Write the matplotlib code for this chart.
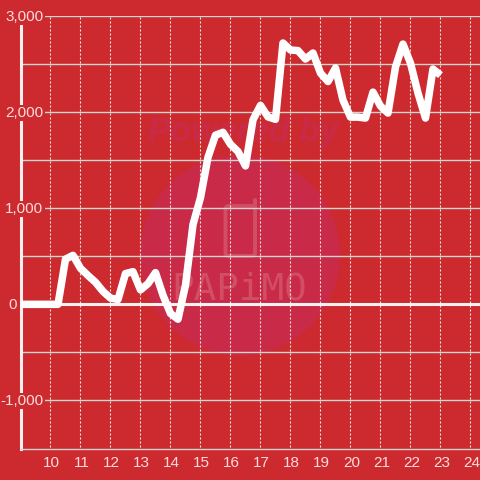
import matplotlib
matplotlib.use('Agg')
import matplotlib.pyplot as plt
from matplotlib.patches import Circle, FancyBboxPatch
from matplotlib.transforms import ScaledTranslation

# chart values
hours = [9, 9.25, 9.5, 9.75, 10, 10.25, 10.5, 10.75, 11, 11.25, 11.5, 11.75,
         12, 12.25, 12.5, 12.75, 13, 13.25, 13.5, 13.75, 14, 14.25, 14.5, 14.75,
         15, 15.25, 15.5, 15.75, 16, 16.25, 16.5, 16.75, 17, 17.25, 17.5, 17.75,
         18, 18.25, 18.5, 18.75, 19, 19.25, 19.5, 19.75, 20, 20.25, 20.5, 20.75,
         21, 21.25, 21.5, 21.75, 22, 22.25, 22.5, 22.75, 23]
values = [0, 0, 0, 0, 0, 0, 470, 510, 375, 300, 230, 135,
          65, 50, 320, 340, 150, 215, 330, 95, -95, -155, 200, 830,
          1110, 1530, 1760, 1790, 1665, 1590, 1440, 1920, 2070, 1950, 1925, 2719,
          2646, 2640, 2552, 2615, 2406, 2318, 2458, 2125, 1948, 1948, 1938, 2208,
          2063, 1990, 2469, 2708, 2510, 2198, 1938, 2448, 2385]
x_ticks = list(range(10, 25))
y_ticks = [3000, 2000, 1000, 0, -1000]
y_labels = ['3,000', '2,000', '1,000', '0', '-1,000']
y_grid = [3000, 2500, 2000, 1500, 1000, 500, -500, -1000]

bg = '#cc2a2e'
label_col = '#fbdcdc'
plt.rcParams['font.family'] = ['Liberation Sans', 'DejaVu Sans']

fig = plt.figure(figsize=(4.8, 4.8), dpi=100, facecolor=bg)

# watermark layer, in pixels
wm = fig.add_axes([0, 0, 1, 1], zorder=0)
wm.set_xlim(0, 480)
wm.set_ylim(480, 0)
wm.axis('off')
wm.add_patch(Circle((240, 255), 100, fc='#c92a48', ec='none'))
wm.text(243, 133, 'Powered by', color='#c92a48', fontsize=24.5, fontweight='bold',
        fontstyle='italic', ha='center', va='center')
wm.add_patch(FancyBboxPatch((225.5, 206), 29.5, 50, boxstyle='round,pad=0,rounding_size=3',
                            fc='none', ec='#d14e64', lw=2.8))
wm.plot([255, 255], [200, 208], color='#d14e64', lw=2.8, solid_capstyle='round')
wm.text(239, 290, 'PAPiMO', color='#d14e64', family='DejaVu Sans Mono', fontsize=27,
        ha='center', va='center')

# main chart, x 9-24.33 and y -1500-3000 sit on the picture's pixels
ax = fig.add_axes([20.5 / 480, 31.5 / 480, 459.5 / 480, 432.5 / 480], zorder=1)
ax.patch.set_alpha(0)
ax.set_xlim(9, 24.317)
ax.set_ylim(-1500, 3000)
for s in ['top', 'right']:
    ax.spines[s].set_visible(False)
ax.spines['left'].set_color('#f5f0f0')
ax.spines['left'].set_linewidth(2.2)
ax.spines['bottom'].set_color('#d5d5d0')
ax.spines['bottom'].set_linewidth(1)
ax.spines['bottom'].set_bounds(9, 24.317)

ax.hlines(y_grid, 9, 24.317, color='#d5d5d0', lw=1, zorder=1)
ax.vlines(x_ticks, -1480, 3000, color='#ecebe4', lw=0.8, linestyles=(0, (1.8, 1.8)), zorder=1)
ax.axhline(0, color='#f7f2f2', lw=2.2, zorder=2)

ax.plot(hours, values, color='white', lw=5.4, solid_joinstyle='round',
        solid_capstyle='butt', zorder=3)

ax.set_xticks(x_ticks)
ax.set_xticklabels(x_ticks, color=label_col, fontsize=11)
ax.set_yticks([])
ax.tick_params(axis='x', length=0, pad=5)
shift = ScaledTranslation(1 / 100, -1 / 100, fig.dpi_scale_trans)
for lab in ax.get_xticklabels():
    lab.set_transform(lab.get_transform() + shift)

for v, s in zip(y_ticks, y_labels):
    # the zero label sits further left than the others
    x_px = 16.5 if v == 0 else 43.5
    wm_y = 305 - v * 0.096
    ax.annotate(s, xy=(x_px, 480 - wm_y), xycoords='figure pixels', color=label_col,
                fontsize=11, ha='right', va='center', annotation_clip=False, zorder=5,
                bbox=dict(fc=bg, ec='none', pad=1))

fig.savefig('out.png', dpi=100, facecolor=bg)
